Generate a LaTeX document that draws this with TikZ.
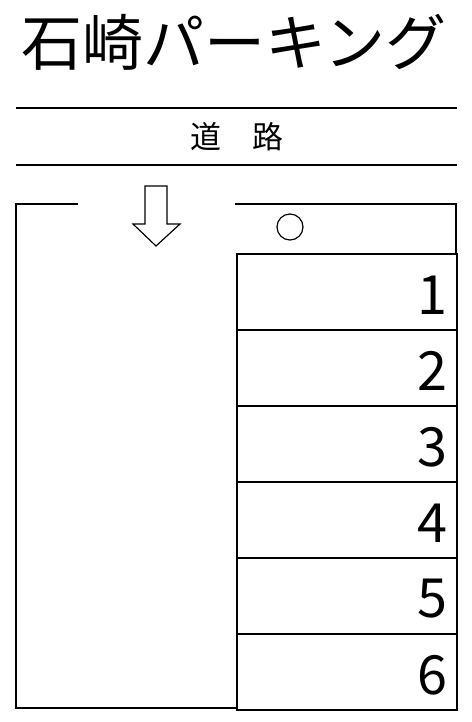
\documentclass[tikz,border=0pt]{standalone}
\usepackage{fontspec}
\setmainfont{Noto Sans CJK JP}
\begin{document}
\begin{tikzpicture}[x=1pt,y=-1pt,
  wall/.style={line width=2pt,line cap=rect},
  num/.style={anchor=east,font=\fontsize{54}{54}\selectfont,inner sep=0pt},
  bay/.style={draw,line width=2pt,minimum width=220pt,minimum height=76pt,inner sep=0pt}]
\useasboundingbox (0,0) rectangle (471,722);
\node[inner sep=0pt,font=\fontsize{61}{61}\selectfont] (title) at (234,42) {石崎パーキング};
\coordinate (r1a) at (16,108); \coordinate (r1b) at (457,108);
\coordinate (r2a) at (16,165); \coordinate (r2b) at (457,165);
\draw[line width=2pt] (r1a) -- (r1b);
\draw[line width=2pt] (r2a) -- (r2b);
\node[inner sep=0pt,font=\fontsize{31}{31}\selectfont] (road) at (237,137) {道　路};
% outer boundary
\coordinate (tl) at (16,204); \coordinate (tlg) at (77,204);
\coordinate (bl) at (16,708); \coordinate (bm) at (236,708);
\coordinate (trg) at (236,204); \coordinate (tr) at (456,204); \coordinate (br) at (456,253);
\draw[wall] (tlg) -- (tl) -- (bl) -- (bm);
\draw[wall] (trg) -- (tr) -- (br);
% arrow
\draw[line width=1.2pt,line join=miter] (145,186) -- (167,186) -- (167,224) -- (180,224) -- (156,246) -- (133,224) -- (145,224) -- cycle;
\node[draw,circle,line width=1.2pt,minimum size=26pt,inner sep=0pt] (mark) at (290,227) {};
% bays
\foreach \i in {1,...,6}{
  \node[bay,anchor=north west] (b\i) at (236,{253+76*(\i-1)}) {};
  \node[num] (n\i) at ([xshift=-10pt,yshift=-3pt]b\i.east) {\i};
}
\end{tikzpicture}
\end{document}
